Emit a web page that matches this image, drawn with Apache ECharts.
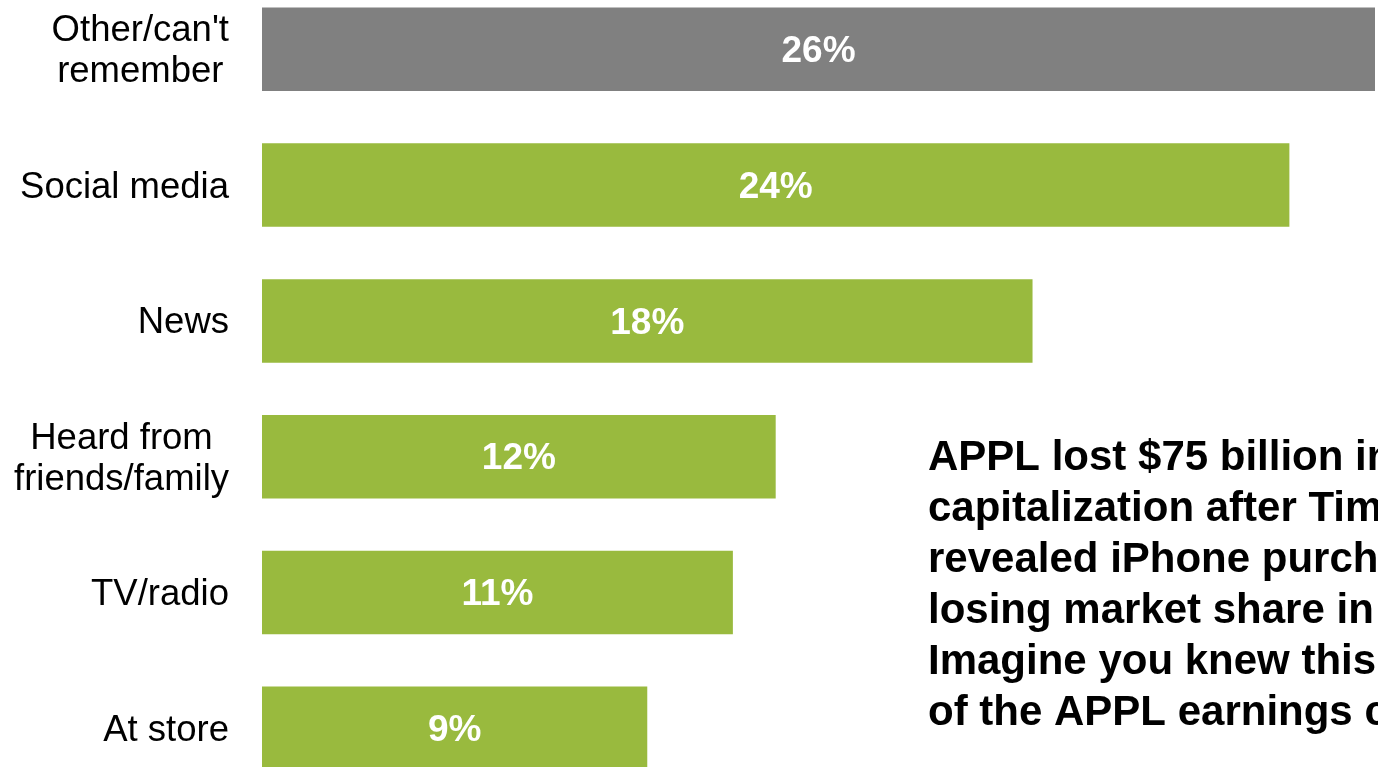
<!DOCTYPE html>
<html>
<head>
<meta charset="utf-8">
<title>Where did you hear it</title>
<script src="https://cdn.jsdelivr.net/npm/echarts@6/dist/echarts.min.js"></script>
<style>
  html, body { margin: 0; padding: 0; background: #fff; overflow: hidden; }
  #chart { width: 1378px; height: 767px; }
</style>
</head>
<body>
<div id="chart"></div>
<script>
// categories, top to bottom
const categories = ['Other/can\'t\nremember', 'Social media', 'News', 'Heard from\nfriends/family', 'TV/radio', 'At store']
// share of respondents, %
const values = [26, 24, 18, 12, 11, 9]
const note = [
  'APPL lost $75 billion in',
  'capitalization after Tim Cook',
  'revealed iPhone purchases',
  'losing market share in',
  'Imagine you knew this',
  'of the APPL earnings call'
]

const FONT = 'Arial, "Liberation Sans", sans-serif'
const GREY = '#808080'
const GREEN = '#99BA3E'

const chart = echarts.init(document.getElementById('chart'))
chart.setOption({
  animation: false,
  // the slide is cropped: first and last bands run past the edges
  grid: { left: 262, width: 1113, top: -18.6, height: 814.8, outerBoundsMode: 'none', containLabel: false },
  xAxis: { type: 'value', min: 0, max: 26, show: false, splitLine: { show: false } },
  yAxis: {
    type: 'category',
    inverse: true,
    data: categories,
    axisLine: { show: false },
    axisTick: { show: false },
    axisLabel: {
      margin: 33,
      padding: [5, 0, 0, 0],
      // each line centred, block right-aligned against the bars
      formatter: (v) => v.split('\n').map(s => `{a|${s}}`).join('\n'),
      rich: {
        a: { fontFamily: FONT, fontSize: 36.5, lineHeight: 41, color: '#000', align: 'center' }
      }
    }
  },
  series: [{
    type: 'bar',
    data: values,
    barWidth: 83.5,
    itemStyle: { color: (p) => p.dataIndex === 0 ? GREY : GREEN },
    label: {
      show: true,
      position: 'inside',
      offset: [0, 2.5],
      formatter: '{c}%',
      color: '#fff',
      fontFamily: FONT,
      fontSize: 37,
      fontWeight: 'bold'
    }
  }],
  graphic: [{
    type: 'text',
    left: 928,
    top: 433,
    style: {
      text: note.join('\n'),
      fontFamily: FONT,
      fontSize: 42,
      fontWeight: 'bold',
      lineHeight: 51,
      fill: '#000'
    }
  }]
})
</script>
</body>
</html>
